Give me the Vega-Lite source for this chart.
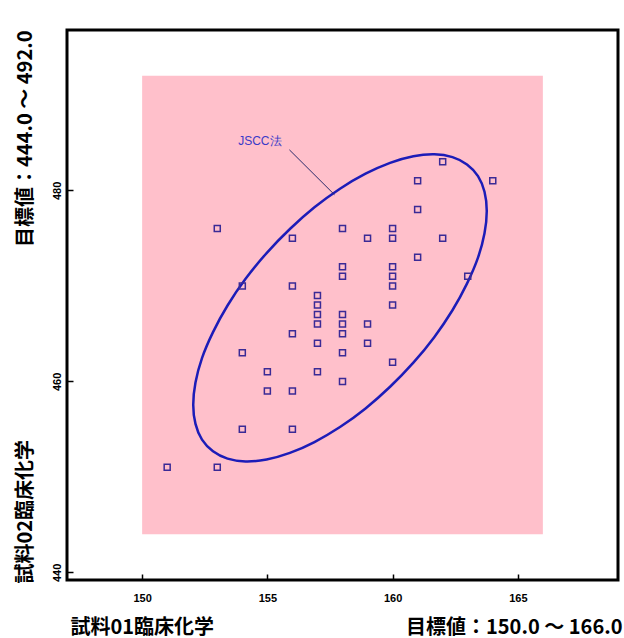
{
  "$schema": "https://vega.github.io/schema/vega-lite/v6.json",
  "width": 551,
  "height": 550,
  "autosize": {"type": "none"},
  "padding": {"left": 67, "top": 30, "right": 6, "bottom": 58},
  "background": "white",
  "config": {
    "view": {"stroke": "black", "strokeWidth": 3},
    "axis": {
      "grid": false,
      "domain": false,
      "labelFont": "Liberation Sans",
      "labelFontWeight": "bold",
      "labelFontSize": 11,
      "labelColor": "black",
      "titleFont": "Noto Sans CJK JP",
      "titleFontWeight": "bold",
      "titleFontSize": 20,
      "titleColor": "black",
      "tickColor": "black",
      "tickWidth": 1.5
    }
  },
  "datasets": {
    "target": [{"x1": 150, "x2": 166, "y1": 444, "y2": 492}],
    "pts": [
      {"x": 151, "y": 451}, {"x": 153, "y": 476}, {"x": 153, "y": 451},
      {"x": 154, "y": 470}, {"x": 154, "y": 463}, {"x": 154, "y": 455},
      {"x": 155, "y": 461}, {"x": 155, "y": 459},
      {"x": 156, "y": 475}, {"x": 156, "y": 470}, {"x": 156, "y": 465}, {"x": 156, "y": 459}, {"x": 156, "y": 455},
      {"x": 157, "y": 469}, {"x": 157, "y": 468}, {"x": 157, "y": 467}, {"x": 157, "y": 466}, {"x": 157, "y": 464}, {"x": 157, "y": 461},
      {"x": 158, "y": 476}, {"x": 158, "y": 472}, {"x": 158, "y": 471}, {"x": 158, "y": 467}, {"x": 158, "y": 466}, {"x": 158, "y": 465}, {"x": 158, "y": 463}, {"x": 158, "y": 460},
      {"x": 159, "y": 475}, {"x": 159, "y": 466}, {"x": 159, "y": 464},
      {"x": 160, "y": 476}, {"x": 160, "y": 475}, {"x": 160, "y": 472}, {"x": 160, "y": 471}, {"x": 160, "y": 470}, {"x": 160, "y": 468}, {"x": 160, "y": 462},
      {"x": 161, "y": 481}, {"x": 161, "y": 478}, {"x": 161, "y": 473},
      {"x": 162, "y": 483}, {"x": 162, "y": 475},
      {"x": 163, "y": 471},
      {"x": 164, "y": 481}
    ],
    "ellipse": [
      {"i": 0, "x": 163.76, "y": 477.84}, {"i": 1, "x": 163.67, "y": 479.86}, {"i": 2, "x": 163.41, "y": 481.5},
      {"i": 3, "x": 162.97, "y": 482.72}, {"i": 4, "x": 162.39, "y": 483.49}, {"i": 5, "x": 161.67, "y": 483.78},
      {"i": 6, "x": 160.83, "y": 483.58}, {"i": 7, "x": 159.9, "y": 482.89}, {"i": 8, "x": 158.92, "y": 481.75},
      {"i": 9, "x": 157.9, "y": 480.18}, {"i": 10, "x": 156.88, "y": 478.23}, {"i": 11, "x": 155.9, "y": 475.96},
      {"i": 12, "x": 154.97, "y": 473.44}, {"i": 13, "x": 154.13, "y": 470.74}, {"i": 14, "x": 153.41, "y": 467.95},
      {"i": 15, "x": 152.83, "y": 465.16}, {"i": 16, "x": 152.39, "y": 462.44}, {"i": 17, "x": 152.13, "y": 459.88},
      {"i": 18, "x": 152.04, "y": 457.56}, {"i": 19, "x": 152.13, "y": 455.55}, {"i": 20, "x": 152.39, "y": 453.9},
      {"i": 21, "x": 152.83, "y": 452.68}, {"i": 22, "x": 153.41, "y": 451.91}, {"i": 23, "x": 154.13, "y": 451.62},
      {"i": 24, "x": 154.97, "y": 451.82}, {"i": 25, "x": 155.9, "y": 452.51}, {"i": 26, "x": 156.88, "y": 453.65},
      {"i": 27, "x": 157.9, "y": 455.22}, {"i": 28, "x": 158.92, "y": 457.17}, {"i": 29, "x": 159.9, "y": 459.44},
      {"i": 30, "x": 160.83, "y": 461.96}, {"i": 31, "x": 161.67, "y": 464.66}, {"i": 32, "x": 162.39, "y": 467.45},
      {"i": 33, "x": 162.97, "y": 470.24}, {"i": 34, "x": 163.41, "y": 472.96}, {"i": 35, "x": 163.67, "y": 475.52}
    ],
    "leader": [{"x1": 155.88, "y1": 484.25, "x2": 157.68, "y2": 479.55}],
    "label": [{"x": 154.7, "y": 485.2, "text": "JSCC法"}]
  },
  "layer": [
    {
      "data": {"name": "target"},
      "mark": {"type": "rect", "color": "#ffc0cb", "opacity": 1},
      "encoding": {
        "x": {"field": "x1", "type": "quantitative", "scale": {"domain": [147, 169], "nice": false, "zero": false},
          "axis": {"orient": "bottom", "labels": false, "ticks": false, "title": "目標値：150.0 ～ 166.0", "titleAlign": "right", "titleAnchor": "end", "titleX": 555, "titleY": 47, "titleBaseline": "middle"}},
        "x2": {"field": "x2"},
        "y": {"field": "y1", "type": "quantitative", "scale": {"domain": [439.2, 496.8], "nice": false, "zero": false},
          "axis": {"orient": "left", "labels": false, "ticks": false, "title": "試料02臨床化学", "titleAngle": -90, "titleAlign": "left", "titleAnchor": "start", "titleBaseline": "middle", "titleX": -42, "titleY": 553}},
        "y2": {"field": "y2"}
      }
    },
    {
      "data": {"name": "ellipse"},
      "mark": {"type": "line", "interpolate": "cardinal-closed", "color": "#1c1cb8", "strokeWidth": 2.5},
      "encoding": {
        "x": {"field": "x", "type": "quantitative", "scale": {"domain": [147, 169], "nice": false, "zero": false}, "axis": null},
        "y": {"field": "y", "type": "quantitative", "scale": {"domain": [439.2, 496.8], "nice": false, "zero": false}, "axis": null},
        "order": {"field": "i", "type": "quantitative"}
      }
    },
    {
      "data": {"name": "leader"},
      "mark": {"type": "rule", "color": "#2a2a6a", "strokeWidth": 1},
      "encoding": {
        "x": {"field": "x1", "type": "quantitative", "scale": {"domain": [147, 169], "nice": false, "zero": false}, "axis": null},
        "y": {"field": "y1", "type": "quantitative", "scale": {"domain": [439.2, 496.8], "nice": false, "zero": false}, "axis": null},
        "x2": {"field": "x2"},
        "y2": {"field": "y2"}
      }
    },
    {
      "data": {"name": "label"},
      "mark": {"type": "text", "color": "#3a3ac8", "font": "Liberation Sans", "fontSize": 12, "align": "center", "baseline": "middle"},
      "encoding": {
        "x": {"field": "x", "type": "quantitative", "scale": {"domain": [147, 169], "nice": false, "zero": false}, "axis": null},
        "y": {"field": "y", "type": "quantitative", "scale": {"domain": [439.2, 496.8], "nice": false, "zero": false}, "axis": null},
        "text": {"field": "text"}
      }
    },
    {
      "data": {"name": "pts"},
      "mark": {"type": "point", "shape": "square", "filled": false, "size": 36, "strokeWidth": 1.5, "color": "#3a2a96", "opacity": 1},
      "encoding": {
        "x": {"field": "x", "type": "quantitative", "scale": {"domain": [147, 169], "nice": false, "zero": false},
          "axis": {"orient": "bottom", "values": [150, 155, 160, 165], "tickSize": -6, "labelPadding": 18, "title": "試料01臨床化学", "titleAlign": "left", "titleAnchor": "start", "titleX": 3, "titleY": 47, "titleBaseline": "middle"}},
        "y": {"field": "y", "type": "quantitative", "scale": {"domain": [439.2, 496.8], "nice": false, "zero": false},
          "axis": {"orient": "left", "values": [440, 460, 480], "tickSize": -6, "labelAngle": -90, "labelAlign": "center", "labelBaseline": "bottom", "labelPadding": 11, "title": "目標値：444.0 ～ 492.0", "titleAngle": -90, "titleAlign": "right", "titleAnchor": "end", "titleBaseline": "middle", "titleX": -42, "titleY": 0}}
      }
    }
  ],
  "resolve": {"axis": {"x": "independent", "y": "independent"}}
}
